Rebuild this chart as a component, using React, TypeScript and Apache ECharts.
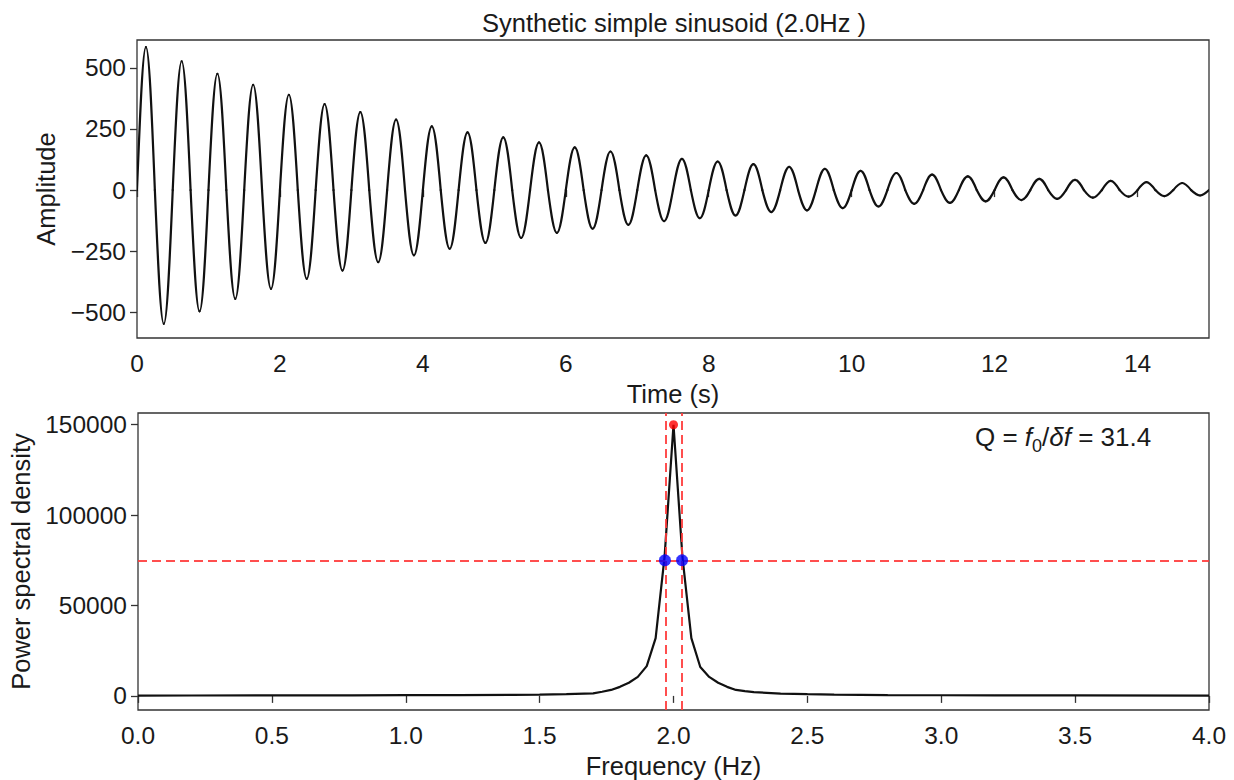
import React, { useEffect, useRef } from "react";
import * as echarts from "echarts";

// ---- Top panel: damped 2.0 Hz sinusoid, values read at peaks / troughs ----
const period = 0.5; // seconds (2.0 Hz)
const peakValues = [585, 527, 476, 431, 390, 352, 319, 288, 261, 236, 216, 195, 175, 158, 142, 128, 117, 106, 95, 87, 79, 70, 63, 56, 52, 46, 42, 38, 33, 29];
const troughValues = [-547, -496, -445, -404, -363, -329, -295, -267, -240, -216, -196, -175, -158, -142, -127, -115, -104, -90, -83, -74, -67, -56, -52, -46, -41, -36, -31, -27, -25, -22];
const timeTicks = [0, 2, 4, 6, 8, 10, 12, 14];
const ampTicks = [-500, -250, 0, 250, 500];

// ---- Bottom panel: power spectral density ----
const psdFreq = [0.0, 0.2, 0.5, 0.8, 1.0, 1.2, 1.4, 1.5, 1.6, 1.7, 1.7333, 1.7667, 1.8, 1.8333, 1.8667, 1.9, 1.9333, 1.9667, 2.0, 2.0333, 2.0667, 2.1, 2.1333, 2.1667, 2.2, 2.2333, 2.2667, 2.3, 2.4, 2.5, 2.6, 2.8, 3.0, 3.2, 3.5, 4.0];
const psdValue = [200, 230, 260, 330, 380, 480, 620, 750, 1000, 1400, 2300, 3300, 5000, 7300, 10500, 16500, 32000, 77000, 150000, 77000, 32000, 16000, 10500, 7300, 5000, 3300, 2600, 2100, 1300, 950, 720, 480, 360, 290, 240, 200];
const freqTicks = [0, 0.5, 1.0, 1.5, 2.0, 2.5, 3.0, 3.5, 4.0];
const psdTicks = [0, 50000, 100000, 150000];
const f0 = 2.0;
const peakPower = 150000;
const halfPower = 75000;
const fLow = 1.968;
const fHigh = 2.032;

const FONT = "'Liberation Sans', Arial, Helvetica, sans-serif";
const TXT = "#1a1a1a";
const AX = "#333333";
const RED = "#ff3b3b";

// cubic Bezier shape of a quarter sine wave (normalised control points)
const QA = 0.3516;
const QB = 0.5523;

export default function App() {
  const ref = useRef<HTMLDivElement>(null);

  useEffect(() => {
    if (!ref.current) return;
    const chart = echarts.init(ref.current, undefined, { renderer: "svg" });

    // key points: zero, peak, zero, trough for each cycle
    const sig: [number, number][] = [];
    for (let k = 0; k < peakValues.length; k++) {
      const t0 = k * period;
      sig.push([t0, 0]);
      sig.push([t0 + period / 4, peakValues[k]]);
      sig.push([t0 + period / 2, 0]);
      sig.push([t0 + (3 * period) / 4, troughValues[k]]);
    }
    sig.push([peakValues.length * period, 0]);
    const segs: number[][] = [];
    for (let i = 0; i < sig.length - 1; i++) {
      segs.push([sig[i][0], sig[i][1], sig[i + 1][0], sig[i + 1][1]]);
    }

    const psd = psdFreq.map((f, i) => [f, psdValue[i]]);

    const labelStyle = { fontFamily: FONT, fontSize: 24.5, color: TXT };
    const nameStyle = { fontFamily: FONT, fontSize: 25.5, color: TXT };
    const axisCommon = {
      axisLine: { show: false },
      splitLine: { show: false },
      axisTick: { show: true, inside: false, length: 7, lineStyle: { color: AX, width: 1.3 } },
    };

    const option: any = {
      animation: false,
      backgroundColor: "#ffffff",
      grid: [
        { left: 137, top: 40, width: 1072, height: 298, show: true, borderColor: AX, borderWidth: 1.3, backgroundColor: "transparent" },
        { left: 137, top: 413, width: 1072, height: 299, show: true, borderColor: AX, borderWidth: 1.3, backgroundColor: "transparent" },
      ],
      xAxis: [
        {
          ...axisCommon,
          type: "value",
          gridIndex: 0,
          min: 0,
          max: 15,
          name: "Time (s)",
          nameLocation: "middle",
          nameGap: 43,
          nameTextStyle: nameStyle,
          axisTick: { ...axisCommon.axisTick, customValues: timeTicks },
          axisLabel: { ...labelStyle, margin: 13, customValues: timeTicks, formatter: (v: number) => String(v) },
        },
        {
          ...axisCommon,
          type: "value",
          gridIndex: 1,
          min: 0,
          max: 4,
          name: "Frequency (Hz)",
          nameLocation: "middle",
          nameGap: 43,
          nameTextStyle: nameStyle,
          axisTick: { ...axisCommon.axisTick, customValues: freqTicks },
          axisLabel: { ...labelStyle, margin: 13, customValues: freqTicks, formatter: (v: number) => v.toFixed(1) },
        },
      ],
      yAxis: [
        {
          ...axisCommon,
          type: "value",
          gridIndex: 0,
          min: -605,
          max: 614,
          name: "Amplitude",
          nameLocation: "middle",
          nameGap: 78,
          nameTextStyle: nameStyle,
          axisTick: { ...axisCommon.axisTick, customValues: ampTicks },
          axisLabel: { ...labelStyle, margin: 11, customValues: ampTicks, formatter: (v: number) => (v < 0 ? "\u2212" + Math.abs(v) : String(v)) },
        },
        {
          ...axisCommon,
          type: "value",
          gridIndex: 1,
          min: -7800,
          max: 156500,
          name: "Power spectral density",
          nameLocation: "middle",
          nameGap: 104,
          nameTextStyle: nameStyle,
          axisTick: { ...axisCommon.axisTick, customValues: psdTicks },
          axisLabel: { ...labelStyle, margin: 11, customValues: psdTicks, formatter: (v: number) => String(v) },
        },
      ],
      series: [
        {
          type: "custom",
          xAxisIndex: 0,
          yAxisIndex: 0,
          data: segs,
          encode: { x: [0, 2], y: [1, 3] },
          clip: true,
          z: 3,
          renderItem: (params: any, api: any) => {
            const t1 = api.value(0), v1 = api.value(1), t2 = api.value(2), v2 = api.value(3);
            const p1 = api.coord([t1, v1]);
            const p2 = api.coord([t2, v2]);
            const dx = p2[0] - p1[0];
            let c1: number[], c2: number[];
            if (v1 === 0) {
              // rising from zero to an extreme
              const dy = p2[1] - p1[1];
              c1 = [p1[0] + QA * dx, p1[1] + QB * dy];
              c2 = [p1[0] + (1 - QA) * dx, p2[1]];
            } else {
              // from an extreme back to zero
              const dy = p1[1] - p2[1];
              c1 = [p1[0] + QA * dx, p1[1]];
              c2 = [p1[0] + (1 - QA) * dx, p2[1] + QB * dy];
            }
            return {
              type: "bezierCurve",
              shape: { x1: p1[0], y1: p1[1], x2: p2[0], y2: p2[1], cpx1: c1[0], cpy1: c1[1], cpx2: c2[0], cpy2: c2[1] },
              style: { stroke: "#111111", lineWidth: 2.2, fill: "none", lineCap: "round" },
            };
          },
        },
        {
          type: "line",
          xAxisIndex: 1,
          yAxisIndex: 1,
          data: psd,
          showSymbol: false,
          symbol: "none",
          clip: true,
          lineStyle: { color: "#111111", width: 2.2 },
          z: 3,
          markLine: {
            silent: true,
            symbol: "none",
            label: { show: false },
            lineStyle: { color: RED, width: 2, type: [9, 5], opacity: 0.9 },
            data: [{ xAxis: fLow }, { xAxis: fHigh }, { yAxis: halfPower }],
            z: 4,
          },
        },
        {
          type: "scatter",
          xAxisIndex: 1,
          yAxisIndex: 1,
          data: [[f0, peakPower]],
          symbol: "circle",
          symbolSize: 9,
          itemStyle: { color: "#ff0000" },
          z: 5,
        },
        {
          type: "scatter",
          xAxisIndex: 1,
          yAxisIndex: 1,
          data: [[fLow, halfPower], [fHigh, halfPower]],
          symbol: "circle",
          symbolSize: 12,
          itemStyle: { color: "#0000ff" },
          z: 5,
        },
      ],
      graphic: [
        {
          type: "text",
          x: 674,
          y: 23,
          style: { text: "Synthetic simple sinusoid (2.0Hz )", align: "center", verticalAlign: "middle", fontFamily: FONT, fontSize: 25.5, fill: TXT },
        },
        {
          type: "text",
          x: 975,
          y: 437,
          style: {
            text: "Q = {i|f}{sub|0}/{i|δf} = 31.4",
            verticalAlign: "middle",
            fontFamily: FONT,
            fontSize: 26,
            lineHeight: 36,
            fill: TXT,
            rich: {
              i: { fontStyle: "italic", fontFamily: FONT, fontSize: 26, lineHeight: 36, fill: TXT },
              sub: { fontFamily: FONT, fontSize: 18, lineHeight: 18, verticalAlign: "bottom", fill: TXT },
            },
          },
        },
      ],
    };

    chart.setOption(option);
    return () => chart.dispose();
  }, []);

  return <div ref={ref} style={{ position: "fixed", left: 0, top: 0, width: 1234, height: 780, background: "#fff" }} />;
}
